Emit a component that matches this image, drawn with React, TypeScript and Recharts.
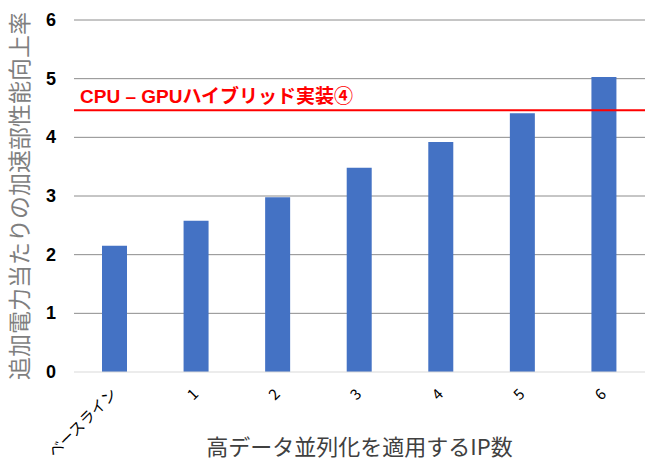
import React from 'react';
import { BarChart, Bar, XAxis, YAxis, CartesianGrid, ReferenceLine, Label } from 'recharts';

const categories = ['ベースライン', '1', '2', '3', '4', '5', '6'];
const values = [2.15, 2.58, 2.98, 3.48, 3.92, 4.41, 5.03];
const yTicks = [0, 1, 2, 3, 4, 5, 6];
const gridValues = [1, 2, 3, 4, 5, 6];
const hybridValue = 4.46;
const hybridLabel = 'CPU – GPUハイブリッド実装④';
const xTitle = '高データ並列化を適用するIP数';
const yTitle = '追加電力当たりの加速部性能向上率';

const data = categories.map((c, i) => ({ name: c, value: values[i] }));

const FONT = '"Noto Sans CJK JP", "Noto Sans", sans-serif';
const BOLD_FONT = '"Liberation Sans", "Noto Sans CJK JP", sans-serif';

const XTick = (props: any) => {
  const { x, y, payload } = props;
  const ax = x + 3;
  const ay = y + 15;
  return (
    <text
      x={ax}
      y={ay}
      transform={`rotate(-45, ${ax}, ${ay})`}
      textAnchor="end"
      fontSize={15}
      fontFamily={FONT}
      fill="#000"
    >
      {payload.value}
    </text>
  );
};

const YTick = (props: any) => {
  const { y, payload } = props;
  return (
    <text x={56} y={y} dy={6} textAnchor="end" fontSize={18} fontWeight="bold" fontFamily={BOLD_FONT} fill="#000">
      {payload.value}
    </text>
  );
};

const RefLabel = (props: any) => {
  const { viewBox } = props;
  return (
    <text x={viewBox.x + 6} y={viewBox.y - 7} fontSize={19} fontWeight="bold" fontFamily={BOLD_FONT} fill="#FF0000">
      {hybridLabel}
    </text>
  );
};

export default function App() {
  return (
    <div style={{ position: 'absolute', left: 0, top: 0 }}>
      <BarChart
        width={650}
        height={461}
        data={data}
        margin={{ top: 20, right: 5, left: 0, bottom: 0 }}
        barSize={25}
      >
        <CartesianGrid vertical={false} horizontalValues={gridValues} stroke="#8c8c8c" strokeWidth={1} />
        <XAxis
          dataKey="name"
          height={89}
          tick={<XTick />}
          tickLine={false}
          axisLine={{ stroke: '#d9d9d9' }}
          interval={0}
        >
          <Label
            value={xTitle}
            position="insideBottom"
            offset={6}
            fontSize={22}
            fontFamily={FONT}
            fill="#404040"
          />
        </XAxis>
        <YAxis
          width={74}
          domain={[0, 6]}
          ticks={yTicks}
          tick={<YTick />}
          tickLine={false}
          axisLine={false}
        >
          <Label
            value={yTitle}
            angle={-90}
            position="insideLeft"
            offset={0}
            dx={20}
            fontSize={23}
            fontFamily={FONT}
            fill="#7f7f7f"
            style={{ textAnchor: 'middle' }}
          />
        </YAxis>
        <Bar dataKey="value" fill="#4472C4" isAnimationActive={false} />
        <ReferenceLine y={hybridValue} stroke="#FF0000" strokeWidth={2} label={<RefLabel />} />
      </BarChart>
    </div>
  );
}
